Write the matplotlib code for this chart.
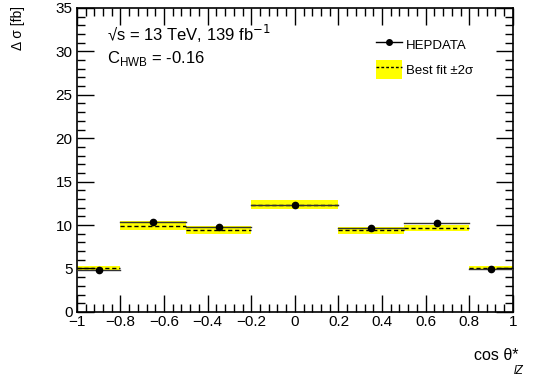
import matplotlib.pyplot as plt
from matplotlib.patches import Patch
from matplotlib.lines import Line2D
from matplotlib.ticker import MultipleLocator

plt.rcParams['font.family'] = ['Liberation Sans', 'DejaVu Sans']

# bin edges in cos theta*
edges = [-1.0, -0.8, -0.5, -0.2, 0.2, 0.5, 0.8, 1.0]
# HEPDATA measured values [fb]
data = [4.8, 10.3, 9.8, 12.3, 9.7, 10.2, 4.9]
# best fit and its 2 sigma half-width [fb]
fit = [5.0, 9.95, 9.4, 12.35, 9.4, 9.7, 5.1]
fit_err = [0.3, 0.5, 0.45, 0.5, 0.4, 0.35, 0.2]

fig = plt.figure(figsize=(5.45, 3.79), dpi=100)
ax = fig.add_axes([0.141, 0.177, 0.800, 0.802])

for i in range(len(data)):
    lo, hi = edges[i], edges[i + 1]
    ax.fill_between([lo, hi], fit[i] - fit_err[i], fit[i] + fit_err[i],
                    color='#ffff00', lw=0, zorder=1)
    ax.plot([lo, hi], [fit[i], fit[i]], color='black', ls=(0, (3, 2)), lw=1.0, zorder=2)
    ax.plot([lo, hi], [data[i], data[i]], color='#333333', lw=1.0, zorder=3)

centers = [(edges[i] + edges[i + 1]) / 2 for i in range(len(data))]
ax.plot(centers, data, 'o', color='black', ms=4.5, zorder=4)

ax.set_xlim(-1, 1)
ax.set_ylim(0, 35)
ax.xaxis.set_major_locator(MultipleLocator(0.2))
ax.xaxis.set_minor_locator(MultipleLocator(0.04))
ax.yaxis.set_major_locator(MultipleLocator(5))
ax.yaxis.set_minor_locator(MultipleLocator(1))
ax.tick_params(which='both', direction='in', top=True, right=True, labelsize=11, width=1.0)
ax.tick_params(which='major', length=12)
ax.tick_params(which='minor', length=6)
ax.tick_params(axis='x', pad=2)
ax.tick_params(axis='y', pad=3)
ax.set_xticks([-1, -0.8, -0.6, -0.4, -0.2, 0, 0.2, 0.4, 0.6, 0.8, 1])
ax.set_xticklabels(['\u22121', '\u22120.8', '\u22120.6', '\u22120.4', '\u22120.2', '0',
                    '0.2', '0.4', '0.6', '0.8', '1'])
for s in ax.spines.values():
    s.set_linewidth(1.2)

fig.text(0.033, 0.985, '\u0394 \u03c3 [fb]', rotation=90, ha='center', va='top', fontsize=10)
fig.text(0.870, 0.063, 'cos \u03b8*', ha='left', va='center', fontsize=11.5)
fig.text(0.952, 0.020, 'lZ', ha='center', va='center', fontsize=8.5, style='italic')

ax.text(0.07, 0.89, '\u221as = 13 TeV, 139 fb$^{-1}$', transform=ax.transAxes, fontsize=12)
ax.text(0.07, 0.82, 'C$_{\\mathregular{HWB}}$ = -0.16', transform=ax.transAxes, fontsize=12)

handles = [Line2D([], [], color='black', marker='o', ms=4, lw=1),
           (Patch(facecolor='#ffff00', lw=0), Line2D([], [], color='black', ls=(0, (2, 1.5)), lw=1))]
ax.legend(handles, ['HEPDATA', 'Best fit \u00b12\u03c3'], loc='upper right',
          bbox_to_anchor=(0.935, 0.95), frameon=False, fontsize=9.5,
          handlelength=1.9, handleheight=1.8, labelspacing=0.5, handletextpad=0.3)

fig.savefig('out.png', dpi=100)
